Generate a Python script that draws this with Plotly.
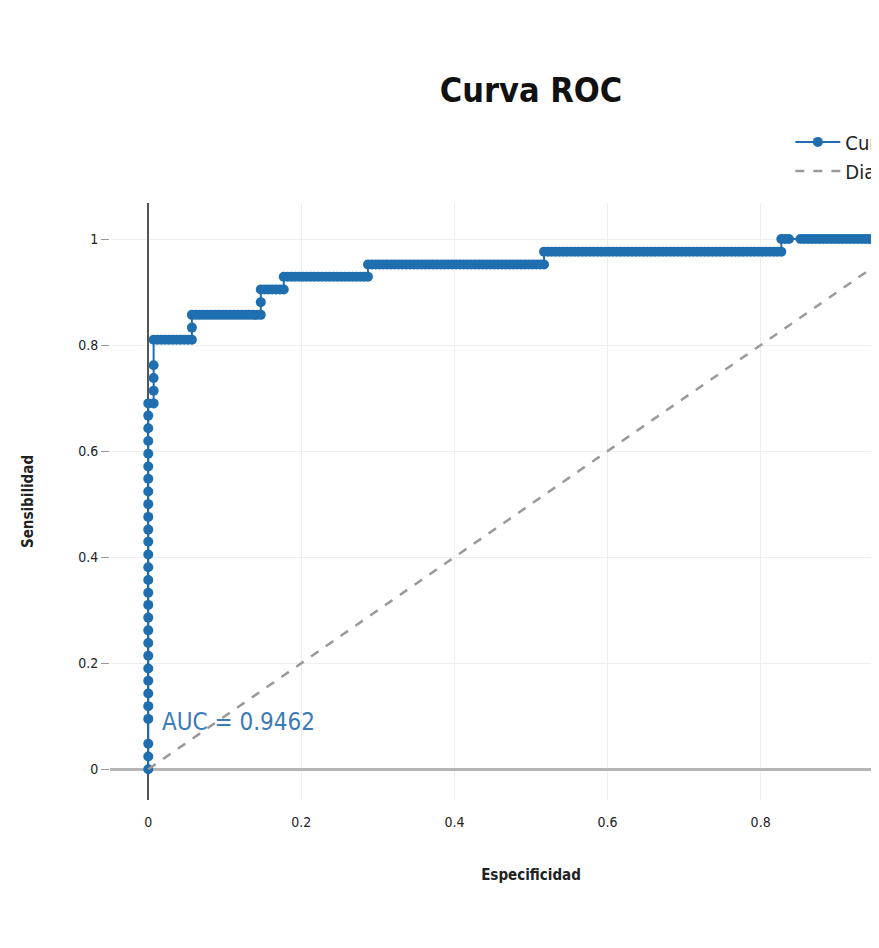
import plotly.graph_objects as go

# ROC curve (x = 1 - especificidad, y = sensibilidad), per step segment
seg_vert0_x = [0, 0, 0, 0, 0, 0, 0, 0, 0, 0, 0, 0, 0, 0, 0, 0, 0, 0, 0, 0, 0, 0, 0, 0, 0, 0, 0, 0, 0]
seg_vert0_y = [0, 0.024, 0.048, 0.095, 0.119, 0.143, 0.167, 0.19, 0.214, 0.238, 0.262, 0.286, 0.31,
               0.333, 0.357, 0.381, 0.405, 0.429, 0.452, 0.476, 0.5, 0.524, 0.548, 0.571, 0.595,
               0.619, 0.643, 0.667, 0.69]
seg_vert1_x = [0.007, 0.007, 0.007, 0.007]
seg_vert1_y = [0.69, 0.714, 0.738, 0.762]

seg_081_x = [0.007, 0.012, 0.017, 0.022, 0.027, 0.032, 0.037, 0.042, 0.047, 0.052, 0.057]
seg_081_y = [0.81, 0.81, 0.81, 0.81, 0.81, 0.81, 0.81, 0.81, 0.81, 0.81, 0.81]
step_0833_x = [0.057]
step_0833_y = [0.833]
seg_0857_x = [0.057, 0.062, 0.067, 0.072, 0.077, 0.082, 0.087, 0.092, 0.097, 0.102, 0.107, 0.112,
              0.117, 0.122, 0.127, 0.132, 0.137, 0.142, 0.147]
seg_0857_y = [0.857] * 19
step_0881_x = [0.147]
step_0881_y = [0.881]
seg_0905_x = [0.147, 0.152, 0.157, 0.162, 0.167, 0.172, 0.177]
seg_0905_y = [0.905] * 7
seg_0929_x = [0.177, 0.182, 0.187, 0.192, 0.197, 0.202, 0.207, 0.212, 0.217, 0.222, 0.227, 0.232,
              0.237, 0.242, 0.247, 0.252, 0.257, 0.262, 0.267, 0.272, 0.277, 0.282, 0.287]
seg_0929_y = [0.929] * 23
seg_0952_x = [0.287, 0.292, 0.297, 0.302, 0.307, 0.312, 0.317, 0.322, 0.327, 0.332, 0.337, 0.342,
              0.347, 0.352, 0.357, 0.362, 0.367, 0.372, 0.377, 0.382, 0.387, 0.392, 0.397, 0.402,
              0.407, 0.412, 0.417, 0.422, 0.427, 0.432, 0.437, 0.442, 0.447, 0.452, 0.457, 0.462,
              0.467, 0.472, 0.477, 0.482, 0.487, 0.492, 0.497, 0.502, 0.507, 0.512, 0.517]
seg_0952_y = [0.952] * 47
seg_0976_x = [0.517, 0.522, 0.527, 0.532, 0.537, 0.542, 0.547, 0.552, 0.557, 0.562, 0.567, 0.572,
              0.577, 0.582, 0.587, 0.592, 0.597, 0.602, 0.607, 0.612, 0.617, 0.622, 0.627, 0.632,
              0.637, 0.642, 0.647, 0.652, 0.657, 0.662, 0.667, 0.672, 0.677, 0.682, 0.687, 0.692,
              0.697, 0.702, 0.707, 0.712, 0.717, 0.722, 0.727, 0.732, 0.737, 0.742, 0.747, 0.752,
              0.757, 0.762, 0.767, 0.772, 0.777, 0.782, 0.787, 0.792, 0.797, 0.802, 0.807, 0.812,
              0.817, 0.822, 0.827]
seg_0976_y = [0.976] * 63
seg_1_x = [0.827, 0.832, 0.837, 0.852, 0.857, 0.862, 0.867, 0.872, 0.877, 0.882, 0.887, 0.892,
           0.897, 0.902, 0.907, 0.912, 0.917, 0.922, 0.927, 0.932, 0.937, 0.942, 0.947, 0.952,
           0.957, 0.962, 0.967, 0.972, 0.977, 0.982, 0.987, 0.992, 0.997, 1.0]
seg_1_y = [1.0] * 34

fpr = (seg_vert0_x + seg_vert1_x + seg_081_x + step_0833_x + seg_0857_x + step_0881_x
       + seg_0905_x + seg_0929_x + seg_0952_x + seg_0976_x + seg_1_x)
tpr = (seg_vert0_y + seg_vert1_y + seg_081_y + step_0833_y + seg_0857_y + step_0881_y
       + seg_0905_y + seg_0929_y + seg_0952_y + seg_0976_y + seg_1_y)

diag_x = [0, 1]
diag_y = [0, 1]

auc_text = "AUC = 0.9462"
x_ticks = [0, 0.2, 0.4, 0.6, 0.8, 1]
y_ticks = [0, 0.2, 0.4, 0.6, 0.8, 1]
tick_text = ["0", "0.2", "0.4", "0.6", "0.8", "1"]

FONT = "DejaVu Sans Condensed, Liberation Sans Narrow, Roboto, sans-serif"

fig = go.Figure()
fig.add_trace(go.Scatter(
    x=fpr, y=tpr, mode="lines+markers", name="Curva ROC",
    line=dict(color="#1f6fb0", width=2),
    marker=dict(color="#1f6fb0", size=10),
))
fig.add_trace(go.Scatter(
    x=diag_x, y=diag_y, mode="lines", name="Diagonal",
    line=dict(color="#9a9a9a", width=2.5, dash="dash"),
))
fig.add_annotation(
    x=0.015, y=0.09, xref="x", yref="y", text=auc_text, showarrow=False,
    xanchor="left", yanchor="middle",
    font=dict(family=FONT, size=24, color="#3a7bb8"),
)

fig.update_layout(
    width=1060, height=930,
    margin=dict(l=102, r=116, t=195, b=138),
    paper_bgcolor="white", plot_bgcolor="white",
    font=dict(family=FONT, size=14, color="#222"),
    title=dict(text="<b>Curva ROC</b>", x=0.5, xref="paper", xanchor="center",
               y=0.912, yref="container", yanchor="middle",
               font=dict(family=FONT, size=34, color="#111")),
    legend=dict(x=0.808, y=1.135, xanchor="left", yanchor="top",
                itemwidth=45, tracegroupgap=0,
                font=dict(family=FONT, size=20, color="#222"),
                bgcolor="rgba(255,255,255,0)"),
    showlegend=True,
)
fig.update_xaxes(
    range=[-0.05, 1.05], tickvals=x_ticks, ticktext=tick_text,
    showgrid=True, gridcolor="#eeeeee", gridwidth=1,
    zeroline=True, zerolinecolor="#555555", zerolinewidth=1.5,
    showline=False, ticks="", ticklabelstandoff=12,
    title=dict(text="<b>Especificidad</b>", font=dict(family=FONT, size=15, color="#222"), standoff=40),
)
fig.update_yaxes(
    range=[-0.058, 1.068], tickvals=y_ticks, ticktext=tick_text,
    showgrid=True, gridcolor="#eeeeee", gridwidth=1,
    zeroline=True, zerolinecolor="#b5b5b5", zerolinewidth=3,
    showline=False, ticks="outside", ticklen=8, tickcolor="#999",
    title=dict(text="<b>Sensibilidad</b>", font=dict(family=FONT, size=15, color="#222"), standoff=40),
)

fig.write_html("out.html")
